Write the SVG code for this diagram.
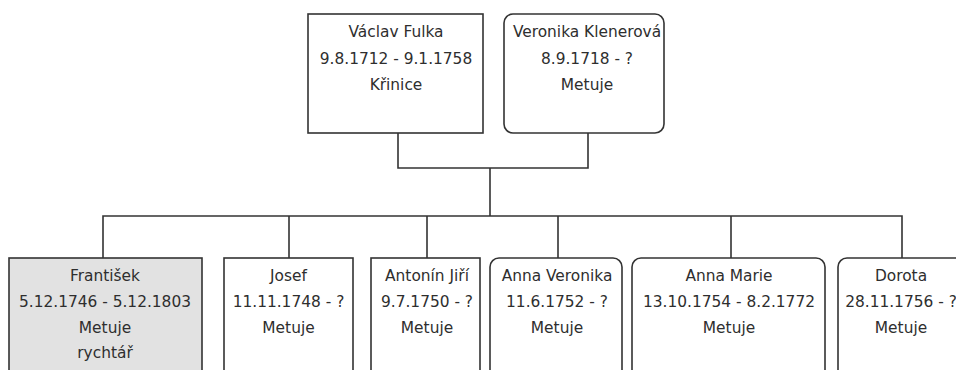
<svg xmlns="http://www.w3.org/2000/svg" width="956" height="370" viewBox="0 0 956 370">
<style>
.box{fill:#ffffff;stroke:#333333;stroke-width:1.6}
.gray{fill:#e2e2e2}
.t{font-family:"DejaVu Sans",Verdana,sans-serif;font-size:15.4px;fill:#2e2e2e;text-anchor:middle}
.c{fill:none;stroke:#333333;stroke-width:1.6}
</style>
<rect width="956" height="370" fill="#ffffff"/>
<g id="connectors">
<path class="c" d="M398 133V168H588V133M490 168V216"/>
<path class="c" d="M103 258V216H902V258M289 216V258M427 216V258M558 216V258M731 216V258"/>
</g>
<g id="vaclav">
<rect class="box" x="308" y="14" width="175" height="119"/>
<text class="t" x="396" y="37">Václav Fulka</text>
<text class="t" x="396" y="64">9.8.1712 - 9.1.1758</text>
<text class="t" x="396" y="90">Křinice</text>
</g>
<g id="veronika">
<rect class="box" x="504" y="14" width="160" height="119" rx="9"/>
<text class="t" x="587" y="37">Veronika Klenerová</text>
<text class="t" x="587" y="64">8.9.1718 - ?</text>
<text class="t" x="587" y="90">Metuje</text>
</g>
<g id="frantisek">
<rect class="box gray" x="9" y="258" width="193" height="130"/>
<text class="t" x="105" y="281">František</text>
<text class="t" x="105" y="307">5.12.1746 - 5.12.1803</text>
<text class="t" x="105" y="333">Metuje</text>
<text class="t" x="105" y="358">rychtář</text>
</g>
<g id="josef">
<rect class="box" x="224" y="258" width="129" height="130"/>
<text class="t" x="288.5" y="281">Josef</text>
<text class="t" x="288.5" y="307">11.11.1748 - ?</text>
<text class="t" x="288.5" y="333">Metuje</text>
</g>
<g id="antonin">
<rect class="box" x="371" y="258" width="109" height="130"/>
<text class="t" x="427" y="281">Antonín Jiří</text>
<text class="t" x="427" y="307">9.7.1750 - ?</text>
<text class="t" x="427" y="333">Metuje</text>
</g>
<g id="annaveronika">
<rect class="box" x="490" y="258" width="132" height="130" rx="9"/>
<text class="t" x="557" y="281">Anna Veronika</text>
<text class="t" x="557" y="307">11.6.1752 - ?</text>
<text class="t" x="557" y="333">Metuje</text>
</g>
<g id="annamarie">
<rect class="box" x="632" y="258" width="193" height="130" rx="9"/>
<text class="t" x="729" y="281">Anna Marie</text>
<text class="t" x="729" y="307">13.10.1754 - 8.2.1772</text>
<text class="t" x="729" y="333">Metuje</text>
</g>
<g id="dorota">
<rect class="box" x="838" y="258" width="128" height="130" rx="9"/>
<text class="t" x="901" y="281">Dorota</text>
<text class="t" x="901" y="307">28.11.1756 - ?</text>
<text class="t" x="901" y="333">Metuje</text>
</g>
</svg>
